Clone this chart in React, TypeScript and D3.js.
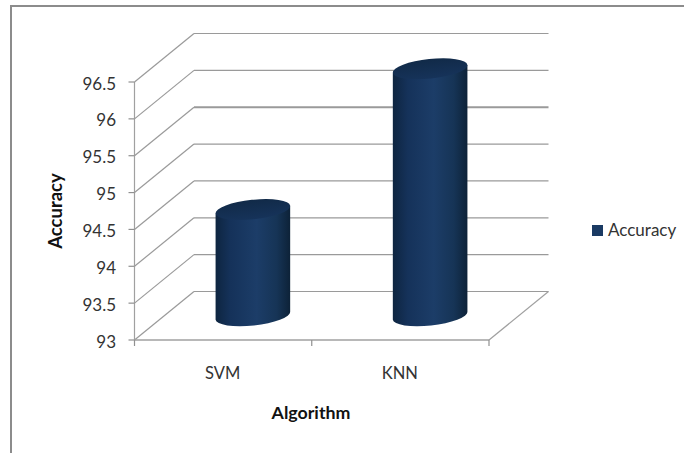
import React from "react";
import * as d3 from "d3";

const categories = ["SVM", "KNN"];
const accuracy = [94.44, 96.35];
const yTicks = [93, 93.5, 94, 94.5, 95, 95.5, 96, 96.5];
const seriesName = "Accuracy";
const xTitle = "Algorithm";

const W = 684;
const H = 453;
const FONT = "Lato, 'Open Sans', sans-serif";

// Oblique projection used by the 3D axes: front plane plus a depth offset.
const DEPTH_DX = 59.5;
const DEPTH_DY = -48.5;

const y = d3.scaleLinear().domain([93, 96.5]).range([340, 82]);
const x = d3.scaleBand<string>().domain(categories).range([134.5, 489]);

const project = (px: number, value: number, depth: number): [number, number] => [
  px + depth * DEPTH_DX,
  y(value) + depth * DEPTH_DY,
];

const line = d3.line<[number, number]>();

const RX = 37.5;
const RY = 9.8;
const TILT = -6;
const tiltRad = (TILT * Math.PI) / 180;

function Cylinder({ name, value }: { name: string; value: number }) {
  const [cx, top] = project(x(name)! + x.bandwidth() / 2, value, 0.5);
  const [, base] = project(x(name)! + x.bandwidth() / 2, 93, 0.5);
  const dx = RX * Math.cos(tiltRad);
  const dy = RX * Math.sin(tiltRad);
  const body =
    `M${cx - dx},${top - dy}L${cx - dx},${base - dy}` +
    `A${RX},${RY} ${TILT} 0 0 ${cx + dx},${base + dy}` +
    `L${cx + dx},${top + dy}Z`;
  return (
    <g>
      <path d={body} fill="url(#barBody)" />
      <ellipse
        cx={cx}
        cy={top}
        rx={RX}
        ry={RY}
        fill="url(#barTop)"
        transform={`rotate(${TILT} ${cx} ${top})`}
      />
    </g>
  );
}

export default function App() {
  const x0 = x.range()[0];
  const x1 = x.range()[1];
  return (
    <svg
      width={W}
      height={H}
      style={{ position: "absolute", left: 0, top: 0, background: "#fff" }}
      fontFamily={FONT}
    >
      <defs>
        <linearGradient id="barBody" x1="0" x2="1" y1="0" y2="0">
          <stop offset="0" stopColor="#0e2540" />
          <stop offset="0.2" stopColor="#15325a" />
          <stop offset="0.55" stopColor="#1c3d68" />
          <stop offset="0.82" stopColor="#163456" />
          <stop offset="1" stopColor="#0d2238" />
        </linearGradient>
        <linearGradient id="barTop" x1="0" x2="0" y1="0" y2="1">
          <stop offset="0" stopColor="#112a48" />
          <stop offset="1" stopColor="#16335a" />
        </linearGradient>
      </defs>

      {/* chart frame */}
      <path d={`M11,453V6H${W}`} fill="none" stroke="#8c8c8c" strokeWidth={2} />

      {/* wall gridlines: the slanted side wall, then the back wall */}
      {yTicks.map((t) => (
        <g key={t} fill="none" stroke="#9a9a9a">
          <path d={line([project(x0, t, 0), project(x0, t, 1)])!} strokeWidth={1.2} />
          <path
            d={line([project(x0, t, 1), project(x1, t, 1)])!}
            strokeWidth={t === 95.5 ? 1.9 : 1.2}
          />
        </g>
      ))}

      {/* floor edges */}
      <path
        d={line([project(x1, 93, 0), project(x1, 93, 1)])!}
        fill="none"
        stroke="#a0a0a0"
        strokeWidth={1.2}
      />
      <path
        d={line([project(x0, 93, 0), project(x1, 93, 0)])!}
        fill="none"
        stroke="#a0a0a0"
        strokeWidth={1.4}
      />
      <path
        d={line([project(x0, 96.5, 0), project(x0, 93, 0)])!}
        fill="none"
        stroke="#a0a0a0"
        strokeWidth={1.2}
      />

      {/* axis ticks */}
      {yTicks.map((t) => (
        <line key={t} x1={x0 - 6} x2={x0} y1={y(t)} y2={y(t)} stroke="#909090" strokeWidth={1.2} />
      ))}
      {[x0, x1, x0 + x.bandwidth()].map((px) => (
        <line key={px} x1={px} x2={px} y1={340} y2={346} stroke="#909090" strokeWidth={1.2} />
      ))}

      {/* tick labels */}
      {yTicks.map((t) => (
        <text key={t} x={116} y={y(t) + 7.5} textAnchor="end" fontSize={17} fill="#333">
          {t}
        </text>
      ))}
      {categories.map((c) => (
        <text
          key={c}
          x={x(c)! + x.bandwidth() / 2 - 0.5}
          y={379}
          textAnchor="middle"
          fontSize={16.5}
          fill="#333"
        >
          {c}
        </text>
      ))}

      {categories.map((c, i) => (
        <Cylinder key={c} name={c} value={accuracy[i]} />
      ))}

      {/* axis titles */}
      <text
        transform="translate(62,211) rotate(-90)"
        textAnchor="middle"
        fontSize={18.5}
        fontWeight={700}
        fill="#111"
      >
        {seriesName}
      </text>
      <text x={311} y={419} textAnchor="middle" fontSize={17.8} fontWeight={700} fill="#111">
        {xTitle}
      </text>

      {/* legend */}
      <rect x={592} y={225} width={11} height={11} fill="#1a3a63" />
      <text x={608} y={236} fontSize={17} fill="#333">
        {seriesName}
      </text>
    </svg>
  );
}
